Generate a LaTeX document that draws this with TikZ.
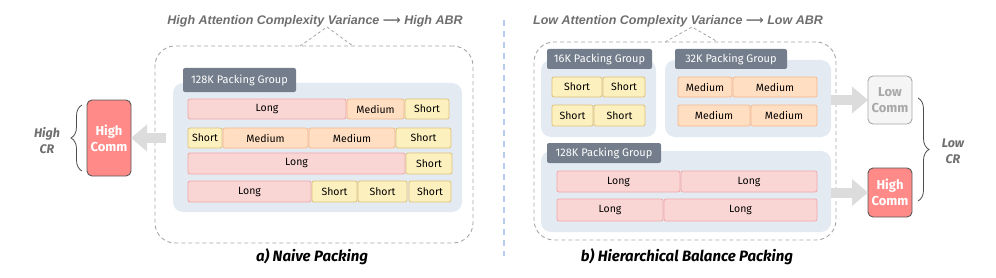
\documentclass[tikz,border=0pt]{standalone}
\usepackage{fontspec}
\setmainfont{Fira Sans}
\newfontfamily\arialf{Liberation Sans}
\newfontfamily\djv{DejaVu Sans}
\usetikzlibrary{arrows.meta,decorations.pathreplacing}
\definecolor{longf}{HTML}{F9D6D3}
\definecolor{longd}{HTML}{F4A6A6}
\definecolor{medf}{HTML}{FFDEC2}
\definecolor{medd}{HTML}{F7B98B}
\definecolor{shortf}{HTML}{FDF0BF}
\definecolor{shortd}{HTML}{E0C277}
\definecolor{grpbg}{HTML}{E3EAF2}
\definecolor{grplab}{HTML}{737D8B}
\definecolor{commh}{HTML}{FF8A87}
\definecolor{comml}{HTML}{F5F5F5}
\definecolor{commld}{HTML}{A8A8A8}
\definecolor{txtgray}{HTML}{6E6E6E}
\definecolor{arrowg}{HTML}{DCDCDC}
\definecolor{sepblue}{HTML}{B9CBF2}
\definecolor{dashg}{HTML}{A6A6A6}
\tikzset{
  seg/.style={rounded corners=2pt, line width=0.8pt, inner sep=0pt, outer sep=0pt, font=\fontsize{10.5}{12}\selectfont, text=black},
  longseg/.style={seg, fill=longf, draw=longd},
  medseg/.style={seg, fill=medf, draw=medd},
  shortseg/.style={seg, fill=shortf, draw=shortd},
  grpbox/.style={fill=grpbg, rounded corners=10pt, inner sep=0pt, outer sep=0pt},
  grplabel/.style={fill=grplab, rounded corners=2pt, inner sep=0pt, outer sep=0pt, text=white, font=\fontsize{11}{13}\selectfont},
  outerdash/.style={draw=dashg, dash pattern=on 4pt off 3pt, line width=0.9pt, rounded corners=20pt, inner sep=0pt, outer sep=0pt},
  wedge/.style={draw=dashg, dash pattern=on 3pt off 2.5pt, line width=0.8pt},
  commhigh/.style={fill=commh, draw=black!65, line width=0.9pt, rounded corners=5pt, inner sep=0pt, outer sep=0pt, text=white, align=center, font=\bfseries\fontsize{13}{16}\selectfont},
  commlow/.style={fill=comml, draw=commld, line width=0.9pt, rounded corners=5pt, inner sep=0pt, outer sep=0pt, text=commld, align=center, font=\bfseries\fontsize{13}{16}\selectfont},
  titletxt/.style={text=txtgray, font=\arialf\bfseries\itshape\fontsize{12.5}{15}\selectfont},
  captxt/.style={text=black, font=\bfseries\itshape\fontsize{15}{18}\selectfont},
  crtxt/.style={text=txtgray, align=center, font=\bfseries\itshape\fontsize{12.5}{16}\selectfont},
  blockarrow/.style={draw=arrowg, line width=10pt, -{Triangle[width=26pt,length=16pt]}},
  bracestyle/.style={draw=black!70, line width=0.8pt, decorate, decoration={brace, amplitude=11pt}},
}
\newcommand{\segbox}[7]{\node[#2, minimum width={#5-#3}, minimum height={#6-#4}, anchor=north west] (#1) at (#3,#4) {#7};}
\newcommand{\tarrow}{{\djv\upshape\bfseries ⟶}}
\begin{document}
\begin{tikzpicture}[x=1pt,y=-1pt]
\useasboundingbox (0,0) rectangle (996,278);
% separator
\coordinate (sepT) at (504,20);
\coordinate (sepB) at (504,256);
\draw[sepblue, line width=1.6pt, dash pattern=on 6pt off 5pt] (sepT) -- (sepB);

% ===== a) Naive packing =====
\segbox{outerA}{outerdash}{155}{46}{473}{243}{}
\node[titletxt] (titleA) at (315,21) {High Attention Complexity Variance \tarrow{} High ABR};
\coordinate (wA) at (327,27);
\coordinate (wAl) at (300,46);
\coordinate (wAr) at (353,46);
\draw[wedge] (wAl) -- (wA) -- (wAr);
\segbox{bgA}{grpbox}{173}{83}{462}{212}{}
\segbox{labA}{grplabel}{183}{68}{296}{92}{128K Packing Group}
% row 1
\segbox{a11}{longseg}{188}{99}{346}{119}{Long}
\segbox{a12}{medseg}{347}{99}{404}{119}{Medium}
\segbox{a13}{shortseg}{405}{99}{449}{119}{Short}
% row 2
\segbox{a21}{shortseg}{188}{128}{222}{148}{Short}
\segbox{a22}{medseg}{223}{128}{308}{148}{Medium}
\segbox{a23}{medseg}{309}{128}{395}{148}{Medium}
\segbox{a24}{shortseg}{396}{128}{451}{148}{Short}
% row 3
\segbox{a31}{longseg}{188}{153}{405}{174}{Long}
\segbox{a32}{shortseg}{406}{153}{452}{174}{Short}
% row 4
\segbox{a41}{longseg}{188}{181}{311}{202}{Long}
\segbox{a42}{shortseg}{312}{181}{357}{202}{Short}
\segbox{a43}{shortseg}{358}{181}{407}{202}{Short}
\segbox{a44}{shortseg}{409}{181}{451}{202}{Short}
\node[captxt] (capA) at (312,257) {a) Naive Packing};
% comm
\segbox{commA}{commhigh}{87}{100}{131}{176}{High\\Comm}
\draw[blockarrow, shorten <=7pt] (commA.east -| bgA.west) -- (commA.east);
\coordinate (brAb) at (82,171);
\coordinate (brAt) at (82,105);
\draw[bracestyle] (brAb) -- (brAt);
\node[crtxt] (crA) at (47,141) {High\\CR};

% ===== b) Hierarchical balance packing =====
\segbox{outerB}{outerdash}{534}{42}{836}{240}{}
\node[titletxt] (titleB) at (678,21) {Low Attention Complexity Variance \tarrow{} Low ABR};
\coordinate (wB) at (692,27);
\coordinate (wBl) at (665,42);
\coordinate (wBr) at (718,42);
\draw[wedge] (wBl) -- (wB) -- (wBr);
% 16K
\segbox{bg16}{grpbox}{541}{60}{656}{137}{}
\segbox{lab16}{grplabel}{547}{49}{652}{69}{16K Packing Group}
\segbox{b11}{shortseg}{552}{77}{602}{97}{Short}
\segbox{b12}{shortseg}{603}{77}{645}{97}{Short}
\segbox{b13}{shortseg}{552}{105}{593}{126}{Short}
\segbox{b14}{shortseg}{594}{105}{645}{126}{Short}
% 32K
\segbox{bg32}{grpbox}{665}{60}{831}{137}{}
\segbox{lab32}{grplabel}{675}{49}{787}{69}{32K Packing Group}
\segbox{b21}{medseg}{678}{77}{732}{97}{Medium}
\segbox{b22}{medseg}{733}{77}{817}{97}{Medium}
\segbox{b23}{medseg}{678}{105}{750}{126}{Medium}
\segbox{b24}{medseg}{751}{105}{817}{126}{Medium}
% 128K
\segbox{bg128}{grpbox}{541}{151}{831}{232}{}
\segbox{lab128}{grplabel}{547}{143}{661}{163}{128K Packing Group}
\segbox{b31}{longseg}{557}{171}{680}{192}{Long}
\segbox{b32}{longseg}{681}{171}{817}{192}{Long}
\segbox{b33}{longseg}{557}{199}{663}{221}{Long}
\segbox{b34}{longseg}{664}{199}{817}{221}{Long}
\node[captxt] (capB) at (687,257) {b) Hierarchical Balance Packing};
% comm boxes
\segbox{lowC}{commlow}{868}{76}{912}{124}{Low\\Comm}
\segbox{highC}{commhigh}{868}{168}{912}{217}{High\\Comm}
\draw[blockarrow] (lowC.west -| bg32.east) -- (lowC.west);
\draw[blockarrow] (highC.west -| bg128.east) -- (highC.west);
\coordinate (brBt) at (918,98);
\coordinate (brBb) at (918,201);
\draw[bracestyle] (brBt) -- (brBb);
\node[crtxt] (crB) at (953,151) {Low\\CR};
\end{tikzpicture}
\end{document}
